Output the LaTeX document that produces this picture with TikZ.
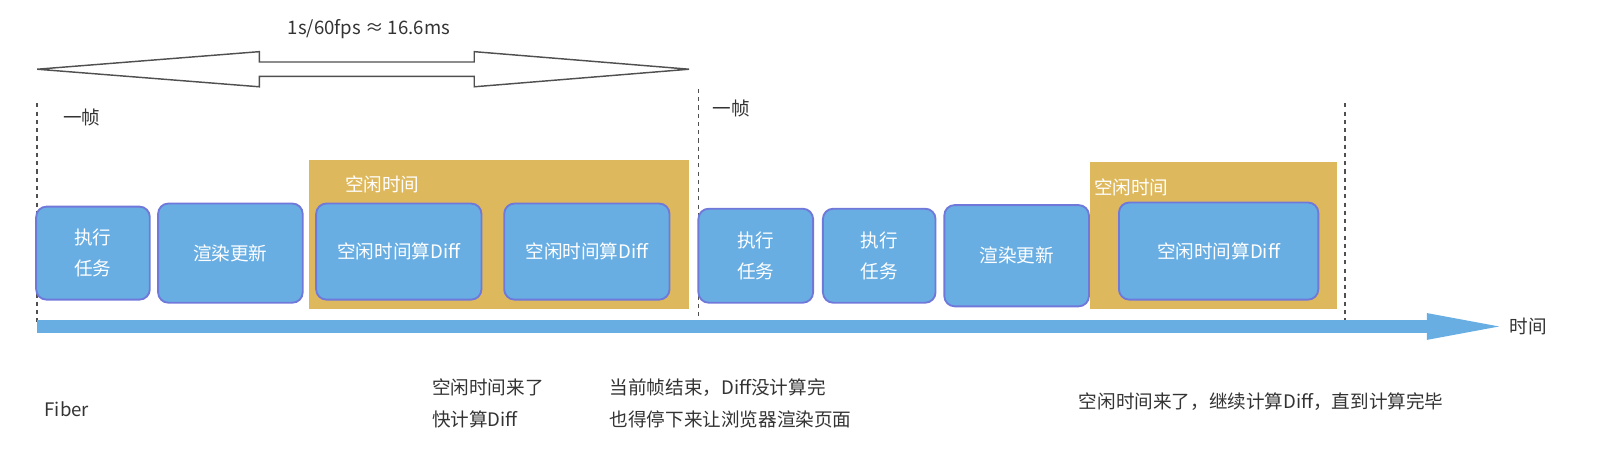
\documentclass[tikz,border=0pt]{standalone}
\usepackage{fontspec}
\setmainfont{Noto Sans CJK SC}
\usetikzlibrary{arrows.meta, positioning, calc}
\definecolor{taskblue}{RGB}{104, 174, 227}
\definecolor{taskedge}{RGB}{112, 120, 218}
\definecolor{idlegold}{RGB}{222, 184, 92}
\definecolor{labelgray}{RGB}{51, 51, 51}
\definecolor{framegray}{RGB}{80, 80, 80}

\begin{document}
\begin{tikzpicture}[x=1pt, y=-1pt, font=\fontsize{18}{22}\selectfont,
  task/.style={draw=taskedge, fill=taskblue, line width=1.8pt, rounded corners=10pt, text=white, align=center, inner sep=0pt, font=\fontsize{18}{30}\selectfont},
  idle/.style={fill=idlegold, inner sep=0pt},
  idlelabel/.style={text=white, inner sep=0pt},
  note/.style={text=labelgray, anchor=west, inner sep=0pt, align=left, font=\fontsize{18}{31}\selectfont},
  frameline/.style={draw=framegray, line width=1.6pt, dash pattern=on 4pt off 4pt}]
  \useasboundingbox (0,0) rectangle (1568,441);

  % 16.6ms frame budget
  \coordinate (fL) at (36,67);
  \coordinate (fR) at (667,67);
  \draw[framegray, line width=1.4pt, fill=white] (fL) -- ++(215,-17) -- ++(0,10) -- ($(fR)+(-208,-7)$) -- ++(0,-10) -- (fR)
    -- ++(-208,17) -- ++(0,-10) -- ($(fL)+(215,7)$) -- ++(0,10) -- cycle;
  \node[text=labelgray] (budget) at (357,28) {1s/60fps ≈ 16.6ms};

  % frame borders
  \draw[frameline] (36,100) -- (36,312);
  \draw[frameline] (676,86) -- (676,318);
  \draw[frameline] (1302,100) -- (1302,312);
  \node[text=labelgray] (frame1) at (79,114) {一帧};
  \node[text=labelgray] (frame2) at (708,105) {一帧};

  % idle periods
  \node[idle, minimum width=368, minimum height=144] (idle1) at (483,227) {};
  \node[idlelabel] (idle1lbl) at (370,178) {空闲时间};
  \node[idle, minimum width=239, minimum height=142] (idle2) at (1174.5,228) {};
  \node[idlelabel] (idle2lbl) at (1095,181) {空闲时间};

  % first frame
  \node[task, minimum width=110, minimum height=90] (run1) at (90,245) {执行\\任务};
  \node[task, minimum width=140, minimum height=96] (paint1) at (223,245) {渲染更新};
  \node[task, minimum width=160, minimum height=93] (diff1) at (386,243.5) {空闲时间算Diff};
  \node[task, minimum width=160, minimum height=93] (diff2) at (568,243.5) {空闲时间算Diff};

  % second frame
  \node[task, minimum width=111, minimum height=91] (run2) at (731.5,247.5) {执行\\任务};
  \node[task, minimum width=109, minimum height=91] (run3) at (851,247.5) {执行\\任务};
  \node[task, minimum width=140, minimum height=98] (paint2) at (984,247.5) {渲染更新};
  \node[task, minimum width=193, minimum height=94] (diff3) at (1179.5,243) {空闲时间算Diff};

  % time axis
  \coordinate (t0) at (36,316);
  \coordinate (t1) at (1451,316);
  \draw[taskblue, line width=13pt, -{Triangle[length=70pt, width=26pt, line width=0pt]}] (t0) -- (t1);
  \node[note, right=10pt of t1] (timelbl) {时间};

  % notes
  \node[note] (fiber) at (43,396) {Fiber};
  \node[note] (note1) at (418,390) {空闲时间来了\\快计算Diff};
  \node[note] (note2) at (590,390) {当前帧结束，Diff没计算完\\也得停下来让浏览器渲染页面};
  \node[note] (note3) at (1044,389) {空闲时间来了，继续计算Diff，直到计算完毕};
\end{tikzpicture}
\end{document}
